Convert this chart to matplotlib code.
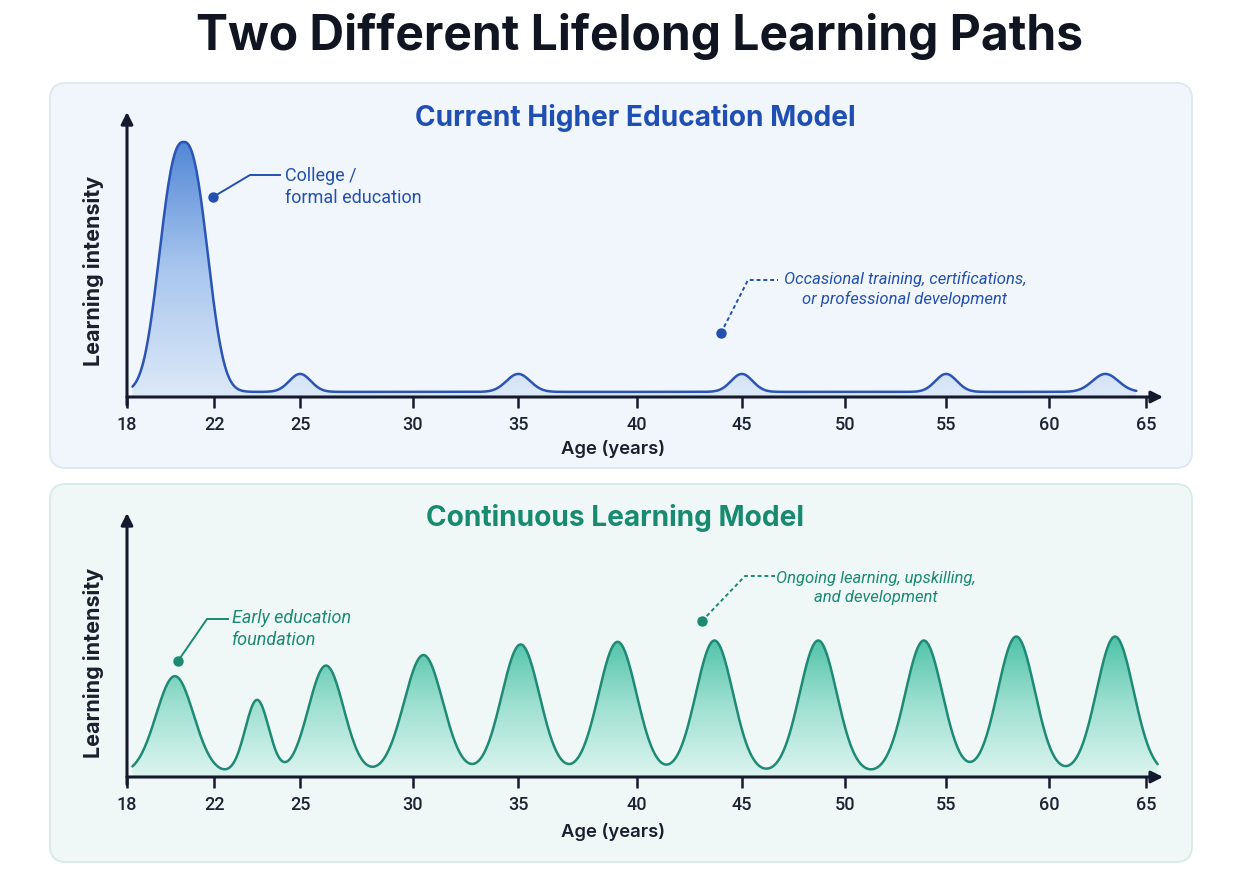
import numpy as np
import matplotlib.pyplot as plt
from matplotlib.colors import LinearSegmentedColormap
from matplotlib.lines import Line2D
from matplotlib.patches import FancyBboxPatch

W, H = 1251, 871

# x axis: ages shown at uneven spacing in the original
tick_ages = [18, 22, 25, 30, 35, 40, 45, 50, 55, 60, 65]
tick_pos = [0, 4.05, 8.05, 13.3, 18.2, 23.7, 28.6, 33.4, 38.1, 42.9, 47.4]

# current model: one big college peak + small bumps
current_peak_ages = [20.6, 25, 35, 45, 55, 62.9]
current_peak_heights = [0.877, 0.063, 0.063, 0.063, 0.063, 0.063]
current_peak_widths = [1.05, 0.5, 0.55, 0.5, 0.5, 0.6]
current_peak_shapes = [2.5, 2, 2, 2, 2, 2]
current_base = 0.018
current_span = [18.25, 64.5]

# continuous model: repeated learning waves
cont_peak_ages = [20.2, 23.5, 26.15, 30.5, 35.1, 39.2, 43.7, 48.7, 53.9, 58.4, 63.4]
cont_peak_heights = [0.37, 0.28, 0.41, 0.45, 0.49, 0.50, 0.505, 0.505, 0.505, 0.52, 0.52]
cont_peak_widths = [0.87, 0.55, 0.82, 0.9, 0.88, 0.88, 0.86, 0.86, 0.86, 0.86, 0.86]
cont_peak_shapes = [2] * 11
cont_base = 0.012
cont_span = [18.25, 65.6]


def to_pos(age):
    age = np.asarray(age, dtype=float)
    p = np.interp(age, tick_ages, tick_pos)
    slope = (tick_pos[-1] - tick_pos[-2]) / (tick_ages[-1] - tick_ages[-2])
    return np.where(age > tick_ages[-1], tick_pos[-1] + (age - tick_ages[-1]) * slope, p)


def curve(ages, heights, widths, shapes, base, span):
    x = np.linspace(to_pos(span[0]), to_pos(span[1]), 1500)
    y = np.full_like(x, base)
    for c, h, w, p in zip(to_pos(ages), heights, widths, shapes):
        y += h * np.exp(-0.5 * np.abs((x - c) / w) ** p)
    return x, y


def fx(x):
    return x / W


def fy(y):
    return 1 - y / H


fig = plt.figure(figsize=(W / 100, H / 100), dpi=100)
fig.patch.set_facecolor('white')

DARK = '#141a2e'

fig.text(fx(640), fy(36), 'Two Different Lifelong Learning Paths', ha='center', va='center',
         fontsize=34.5, fontweight='bold', family='Inter', color='#111522')

# panel backgrounds
for (x0, y0, x1, y1, fc, ec) in [(50, 83, 1192, 468, '#f1f6fc', '#dde6f1'),
                                 (50, 484, 1192, 862, '#eff8f7', '#d6ebe6')]:
    box = FancyBboxPatch((x0 / 100, (H - y1) / 100), (x1 - x0) / 100, (y1 - y0) / 100,
                         boxstyle='round,pad=0,rounding_size=0.16',
                         transform=fig.dpi_scale_trans, facecolor=fc, edgecolor=ec,
                         linewidth=1.3, zorder=-5)
    fig.patches.append(box)


def panel(rect, ages, heights, widths, shapes, base, span, line_col, cmap_cols, ymax_grad):
    ax = fig.add_axes(rect)
    ax.set_zorder(2)
    ax.patch.set_alpha(0)
    x, y = curve(ages, heights, widths, shapes, base, span)
    cmap = LinearSegmentedColormap.from_list('g', cmap_cols)
    grad = np.linspace(0, 1, 256).reshape(-1, 1)
    im = ax.imshow(grad, extent=[x[0], x[-1], 0, ymax_grad], origin='lower', aspect='auto',
                   cmap=cmap, zorder=1)
    poly = ax.fill_between(x, 0, y, facecolor='none', edgecolor='none')
    im.set_clip_path(poly.get_paths()[0], transform=ax.transData)
    ax.plot(x, y, color=line_col, lw=1.8, zorder=3, solid_capstyle='round')
    ax.set_xlim(0, 48.05)
    ax.set_ylim(0, 1)
    for s in ax.spines.values():
        s.set_visible(False)
    ax.set_yticks([])
    ax.set_xticks(tick_pos)
    ax.set_xticklabels([str(a) for a in tick_ages], fontsize=13, family='Roboto',
                       fontweight='medium', color='#1d2333')
    ax.tick_params(axis='x', direction='out', length=8, width=1.8, color=DARK, pad=6)
    ax.annotate('', xy=(1.003, 0), xytext=(0, 0), xycoords='axes fraction',
                arrowprops=dict(arrowstyle='-|>,head_length=0.7,head_width=0.35', color=DARK,
                                lw=2.2, shrinkA=0, shrinkB=0), zorder=4)
    ax.annotate('', xy=(0, 1.0), xytext=(0, -0.028), xycoords='axes fraction',
                arrowprops=dict(arrowstyle='-|>,head_length=0.7,head_width=0.35', color=DARK,
                                lw=2.2, shrinkA=0, shrinkB=0), zorder=4)
    return ax


ax1 = panel([fx(127), fy(397), (1160 - 127) / W, (397 - 112) / H],
            current_peak_ages, current_peak_heights, current_peak_widths, current_peak_shapes,
            current_base, current_span, '#2a55b5', ['#dde9f8', '#a9c6ee', '#5186d6'], 0.9)
ax2 = panel([fx(127), fy(777), (1160 - 127) / W, (777 - 513) / H],
            cont_peak_ages, cont_peak_heights, cont_peak_widths, cont_peak_shapes,
            cont_base, cont_span, '#1f8a74', ['#dcf5ef', '#9fe0d1', '#4cc1a7'], 0.54)

BLUE = '#2350b0'
TEAL = '#1b8a71'

fig.text(fx(635), fy(118), 'Current Higher Education Model', ha='center', va='center',
         fontsize=20.2, fontweight='bold', family='Inter', color='#1f4fb3')
fig.text(fx(615), fy(518), 'Continuous Learning Model', ha='center', va='center',
         fontsize=20.2, fontweight='bold', family='Inter', color='#188a70')

for yc in (271, 663):
    fig.text(fx(93), fy(yc), 'Learning intensity', rotation=90, ha='center', va='center',
             fontsize=15.5, fontweight='bold', family='Inter', color='#1a1f2e')
for yc in (449, 832):
    fig.text(fx(613), fy(yc), 'Age (years)', ha='center', va='center',
             fontsize=13.3, fontweight='semibold', family='Inter', color='#1a1f2e')


def leader(pts, col, style):
    xs = [fx(p[0]) for p in pts]
    ys = [fy(p[1]) for p in pts]
    fig.lines.append(Line2D(xs, ys, transform=fig.transFigure, color=col, lw=1.4,
                            linestyle=style))
    fig.lines.append(Line2D([xs[0]], [ys[0]], transform=fig.transFigure, marker='o',
                            markersize=6.5, color=col, linestyle='none'))


leader([(213, 197), (250, 175), (280, 175)], BLUE, '-')
fig.text(fx(285), fy(187), 'College /\nformal education', ha='left', va='center',
         fontsize=13, family='Roboto', color=BLUE, linespacing=1.25)

leader([(721, 333), (748, 280), (778, 280)], BLUE, (0, (2, 1.5)))
fig.text(fx(905), fy(289), 'Occasional training, certifications,\nor professional development',
         ha='center', va='center', fontsize=12, family='Roboto', style='italic',
         color=BLUE, linespacing=1.3)

leader([(178, 661), (207, 619), (228, 619)], TEAL, '-')
fig.text(fx(232), fy(629), 'Early education\nfoundation', ha='left', va='center',
         fontsize=13, family='Roboto', style='italic', color=TEAL, linespacing=1.25)

leader([(702, 621), (745, 576), (775, 576)], TEAL, (0, (2, 1.5)))
fig.text(fx(876), fy(588), 'Ongoing learning, upskilling,\nand development', ha='center',
         va='center', fontsize=12, family='Roboto', style='italic', color=TEAL,
         linespacing=1.3)

fig.savefig('out.png', dpi=100)
